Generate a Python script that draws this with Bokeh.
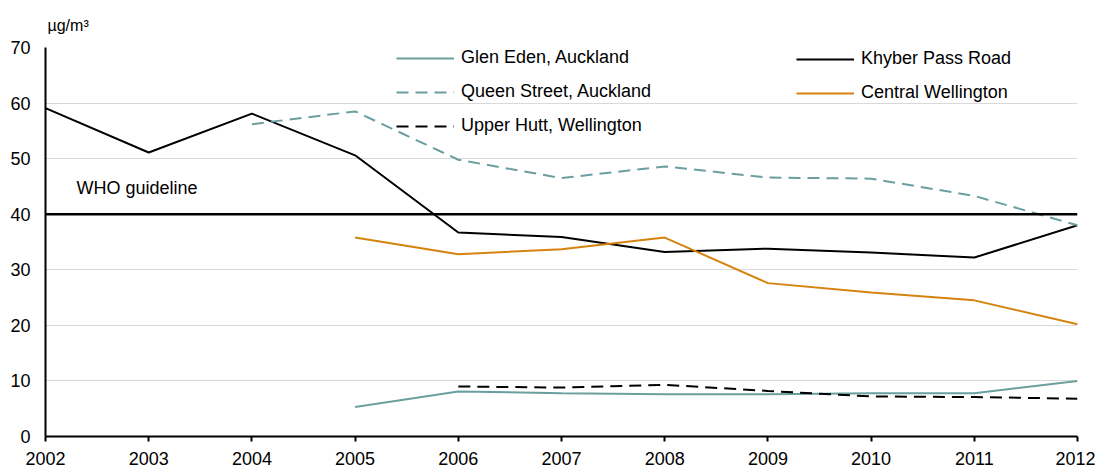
from bokeh.plotting import figure
from bokeh.models import Range1d, FixedTicker, Span, Label, Legend, LegendItem, Title
from bokeh.embed import file_html
from bokeh.resources import INLINE

years_khyber = [2002, 2003, 2004, 2005, 2006, 2007, 2008, 2009, 2010, 2011, 2012]
khyber = [59.1, 51.1, 58.1, 50.6, 36.7, 35.9, 33.2, 33.8, 33.1, 32.2, 38.0]

years_queen = [2004, 2005, 2006, 2007, 2008, 2009, 2010, 2011, 2012]
queen = [56.2, 58.5, 49.8, 46.5, 48.6, 46.6, 46.4, 43.3, 38.0]

years_central = [2005, 2006, 2007, 2008, 2009, 2010, 2011, 2012]
central = [35.8, 32.8, 33.7, 35.8, 27.6, 25.9, 24.5, 20.2]

years_glen = [2005, 2006, 2007, 2008, 2009, 2010, 2011, 2012]
glen = [5.3, 8.1, 7.8, 7.6, 7.6, 7.8, 7.8, 10.0]

years_upper = [2006, 2007, 2008, 2009, 2010, 2011, 2012]
upper = [9.0, 8.8, 9.3, 8.2, 7.2, 7.1, 6.8]

who_guideline = 40
x_ticks = list(range(2002, 2013))
y_ticks = [0, 10, 20, 30, 40, 50, 60, 70]

TEAL = "#6b9f9f"
ORANGE = "#d4830f"
FONT = "Liberation Sans"
FS = "18px"

p = figure(width=1095, height=471, output_backend="svg", toolbar_location=None,
           x_range=Range1d(2002, 2012), y_range=Range1d(0, 70),
           min_border_left=45, min_border_right=18, min_border_top=47, min_border_bottom=35)
p.outline_line_color = None
p.background_fill_color = "white"
p.xgrid.visible = False
p.ygrid.grid_line_color = "#d9d9d9"
p.ygrid.grid_line_width = 1

p.xaxis.ticker = FixedTicker(ticks=x_ticks)
p.yaxis.ticker = FixedTicker(ticks=y_ticks)
for ax in (p.xaxis, p.yaxis):
    ax.axis_line_color = "black"
    ax.axis_line_width = 2
    ax.major_label_text_font = FONT
    ax.major_label_text_font_size = FS
    ax.major_label_text_color = "black"
    ax.minor_tick_line_color = None
p.xaxis.major_tick_line_color = "black"
p.xaxis.major_tick_line_width = 2
p.xaxis.major_tick_out = 5
p.xaxis.major_tick_in = 0
p.xaxis.major_label_standoff = 10
p.yaxis.major_tick_line_color = None
p.yaxis.major_label_standoff = 9

p.add_layout(Span(location=who_guideline, dimension="width", line_color="black", line_width=2.5))

r_glen = p.line(years_glen, glen, line_color=TEAL, line_width=2)
r_khyber = p.line(years_khyber, khyber, line_color="black", line_width=2)
r_queen = p.line(years_queen, queen, line_color=TEAL, line_width=2, line_dash="12 7")
r_central = p.line(years_central, central, line_color=ORANGE, line_width=2)
r_upper = p.line(years_upper, upper, line_color="black", line_width=2, line_dash="12 7")

def make_legend(items, loc):
    lg = Legend(items=items, location=loc, orientation="vertical",
                padding=0, margin=0, spacing=13, glyph_width=58, glyph_height=20,
                label_height=20, label_standoff=7, label_text_font=FONT,
                label_text_font_size=FS, label_text_color="black",
                border_line_color=None, background_fill_alpha=0)
    return lg

lg1 = make_legend([LegendItem(label="Glen Eden, Auckland", renderers=[r_glen]),
                   LegendItem(label="Queen Street, Auckland", renderers=[r_queen]),
                   LegendItem(label="Upper Hutt, Wellington", renderers=[r_upper])], (351, 300))
lg2 = make_legend([LegendItem(label="Khyber Pass Road", renderers=[r_khyber]),
                   LegendItem(label="Central Wellington", renderers=[r_central])], (751, 333))
p.add_layout(lg1)
p.add_layout(lg2)

p.add_layout(Label(x=2002.30, y=44.8, text="WHO guideline", text_font=FONT, text_font_size=FS,
                   text_baseline="middle", text_color="black"))

p.add_layout(Title(text="µg/m³", align="left", offset=2, standoff=27, text_font=FONT,
                   text_font_size="16px", text_font_style="normal", text_color="black"), "above")

open("out.html", "w").write(file_html(p, INLINE))
